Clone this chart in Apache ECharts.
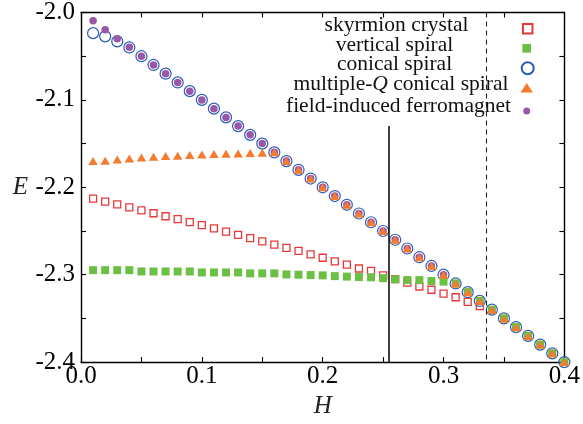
<!DOCTYPE html>
<html><head><meta charset="utf-8">
<script src="https://cdn.jsdelivr.net/npm/echarts@6/dist/echarts.min.js"></script>
<style>html,body{margin:0;padding:0;background:#fff}#c{width:583px;height:424px}</style>
</head><body><div id="c"></div>
<script>
// ---- data ----
const fieldH = [0.01,0.02,0.03,0.04,0.05,0.06,0.07,0.08,0.09,0.10,
                0.11,0.12,0.13,0.14,0.15,0.16,0.17,0.18,0.19,0.20,
                0.21,0.22,0.23,0.24,0.25,0.26,0.27,0.28,0.29,0.30,
                0.31,0.32,0.33,0.34,0.35,0.36,0.37,0.38,0.39,0.40];
const skyrmionE = [-2.2130,-2.2163,-2.2196,-2.2230,-2.2264,-2.2297,-2.2331,-2.2365,-2.2398,-2.2432,
                   -2.2469,-2.2507,-2.2545,-2.2581,-2.2618,-2.2656,-2.2694,-2.2727,-2.2768,-2.2806,
                   -2.2847,-2.2884,-2.2929,-2.2957,-2.3008,-2.3050,-2.3090,-2.3135,-2.3172,-2.3217,
                   -2.3258,-2.3311,-2.3360];
const verticalE = [-2.2948,-2.2948,-2.2948,-2.2948,-2.2963,-2.2963,-2.2963,-2.2963,-2.2963,-2.2974,
                   -2.2974,-2.2974,-2.2974,-2.2985,-2.2985,-2.2985,-2.2997,-2.3000,-2.3004,-2.3008,
                   -2.3016,-2.3022,-2.3027,-2.3030,-2.3040,-2.3052,-2.3061,-2.3062,-2.3072,-2.3079,
                   -2.3100,-2.3200,-2.3300,-2.3400,-2.3500,-2.3600,-2.3700,-2.3800,-2.3900,-2.4000];
const conicalE = [-2.0236,-2.0273,-2.0330,-2.0400,-2.0500,-2.0600,-2.0700,-2.0800,-2.0900,-2.1000,
                  -2.1100,-2.1200,-2.1300,-2.1400,-2.1500,-2.1600,-2.1700,-2.1800,-2.1900,-2.2000,
                  -2.2100,-2.2200,-2.2300,-2.2400,-2.2500,-2.2600,-2.2700,-2.2800,-2.2900,-2.3000,
                  -2.3100,-2.3200,-2.3300,-2.3400,-2.3500,-2.3600,-2.3700,-2.3800,-2.3900,-2.4000];
const multiQE = [-2.1700,-2.1695,-2.1682,-2.1670,-2.1658,-2.1650,-2.1642,-2.1638,-2.1631,-2.1625,
                 -2.1620,-2.1616,-2.1612,-2.1608,-2.1605,-2.1600,-2.1700,-2.1800,-2.1900,-2.2000,
                 -2.2100,-2.2200,-2.2300,-2.2400,-2.2500,-2.2600,-2.2700,-2.2800,-2.2900,-2.3000,
                 -2.3100,-2.3200,-2.3300,-2.3400,-2.3500,-2.3600,-2.3700,-2.3800,-2.3900,-2.4000];
const ferroE = [-2.0093,-2.0198,-2.0300,-2.0397,-2.0500,-2.0600,-2.0700,-2.0800,-2.0900,-2.1000,
                -2.1100,-2.1200,-2.1300,-2.1400,-2.1500,-2.1600,-2.1700,-2.1800,-2.1900,-2.2000,
                -2.2100,-2.2200,-2.2300,-2.2400,-2.2500,-2.2600,-2.2700,-2.2800,-2.2900,-2.3000,
                -2.3100,-2.3200,-2.3300,-2.3400,-2.3500,-2.3600,-2.3700,-2.3800,-2.3900,-2.4000];
const seriesNames = ['skyrmion crystal','vertical spiral','conical spiral','multiple-Q conical spiral','field-induced ferromagnet'];
const xRange = [0, 0.4], yRange = [-2.4, -2.0];
const solidLineH = 0.2545, solidLineTopE = -2.13;
const dashedLineH = 0.335;

// ---- styling ----
const SERIF = '"Liberation Serif","Times New Roman",serif';
const C = {red:'#e8383a', green:'#6cbf45', blue:'#2b5cb6', orange:'#f47b30', purple:'#9b57a7'};
const pairs = arr => arr.map((e,i)=>[fieldH[i], e]);
const fmt = v => { const r = Math.round(v*20); return (r % 2 !== 0) ? '' : (r/20).toFixed(1); };
const axisLine = {show:true, onZero:false, lineStyle:{color:'#000', width:1.4}};
const tick = {show:true, inside:true, length:5, lineStyle:{color:'#000', width:1.1}};

const chart = echarts.init(document.getElementById('c'), null, {renderer:'canvas'});
const legendIcon = [
  {y:27.7, w:9.5, h:9.5},
  {y:48.3, w:8.7, h:8.7},
  {y:67.3, w:12, h:12},
  {y:87.7, w:12.5, h:9.5},
  {y:111, w:7, h:7}
];
chart.setOption({
  animation:false,
  backgroundColor:'#fff',
  grid:{left:81, right:16, top:9, bottom:58},
  xAxis:[
    {type:'value', min:xRange[0], max:xRange[1], interval:0.05, position:'bottom',
     axisLine, axisTick:tick, splitLine:{show:false},
     axisLabel:{formatter:fmt, fontFamily:SERIF, fontSize:25, color:'#000', margin:2},
     name:'H', nameLocation:'middle', nameGap:26,
     nameTextStyle:{fontFamily:SERIF, fontStyle:'italic', fontSize:25, color:'#222'}},
    {type:'value', min:xRange[0], max:xRange[1], interval:0.05, position:'top',
     axisLine, axisTick:tick, splitLine:{show:false}, axisLabel:{show:false}}
  ],
  yAxis:[
    {type:'value', min:yRange[0], max:yRange[1], interval:0.05, position:'left',
     axisLine, axisTick:tick, splitLine:{show:false},
     axisLabel:{formatter:fmt, fontFamily:SERIF, fontSize:25, color:'#000', margin:6},
     name:'E', nameLocation:'middle', nameGap:53, nameRotate:0,
     nameTextStyle:{fontFamily:SERIF, fontStyle:'italic', fontSize:25, color:'#222', padding:[8,0,0,0]}},
    {type:'value', min:yRange[0], max:yRange[1], interval:0.05, position:'right',
     axisLine, axisTick:tick, splitLine:{show:false}, axisLabel:{show:false}}
  ],
  legend: seriesNames.map((n,i)=>({
    data:[n], left:526.7 - legendIcon[i].w/2, top:legendIcon[i].y - legendIcon[i].h/2,
    itemWidth:legendIcon[i].w, itemHeight:legendIcon[i].h, padding:0,
    formatter:()=>'', selectedMode:false, textStyle:{fontSize:1}
  })),
  graphic:[
    {type:'text', x:396.5, y:25.5, style:{text:'skyrmion crystal', font:'21.5px '+SERIF, fill:'#111', align:'center', verticalAlign:'middle'}},
    {type:'text', x:394.5, y:45.2, style:{text:'vertical spiral', font:'21.5px '+SERIF, fill:'#111', align:'center', verticalAlign:'middle'}},
    {type:'text', x:394.5, y:64.8, style:{text:'conical spiral', font:'21.5px '+SERIF, fill:'#111', align:'center', verticalAlign:'middle'}},
    {type:'text', x:401, y:84.5, style:{text:'{n|multiple-}{q|Q}{n| conical spiral}', fill:'#111', align:'center', verticalAlign:'middle',
       rich:{n:{font:'21.5px '+SERIF, fill:'#111'}, q:{font:'italic 21.5px '+SERIF, fill:'#111'}}}},
    {type:'text', x:398.5, y:106.5, style:{text:'field-induced ferromagnet', font:'21.5px '+SERIF, fill:'#111', align:'center', verticalAlign:'middle'}}
  ],
  series:[
    {name:seriesNames[0], type:'scatter', data:pairs(skyrmionE), symbol:'rect', symbolSize:7,
     itemStyle:{color:'rgba(255,255,255,0)', borderColor:C.red, borderWidth:1.3, opacity:1}},
    {name:seriesNames[2], type:'scatter', data:pairs(conicalE), symbol:'circle', symbolSize:11,
     itemStyle:{color:'rgba(255,255,255,0)', borderColor:C.blue, borderWidth:1.2, opacity:1}},
    {name:seriesNames[4], type:'scatter', data:pairs(ferroE), symbol:'circle', symbolSize:7.5,
     itemStyle:{color:C.purple, opacity:1}},
    {name:seriesNames[1], type:'scatter', data:pairs(verticalE), symbol:'rect', symbolSize:8,
     itemStyle:{color:C.green, opacity:1}},
    {name:seriesNames[3], type:'scatter', data:pairs(multiQE), symbol:'triangle', symbolSize:[9.5,8],
     itemStyle:{color:C.orange, opacity:1}},
    {type:'scatter', data:[], silent:true,
     markLine:{symbol:['none','none'], silent:true, label:{show:false}, animation:false,
       data:[
         [{coord:[solidLineH, solidLineTopE], lineStyle:{color:'#000', width:1.5, type:'solid'}},
          {coord:[solidLineH, yRange[0]]}],
         [{coord:[dashedLineH, yRange[1]], lineStyle:{color:'#222', width:1.1, type:[5,4]}},
          {coord:[dashedLineH, yRange[0]]}]
       ]}}
  ]
});
</script></body></html>
